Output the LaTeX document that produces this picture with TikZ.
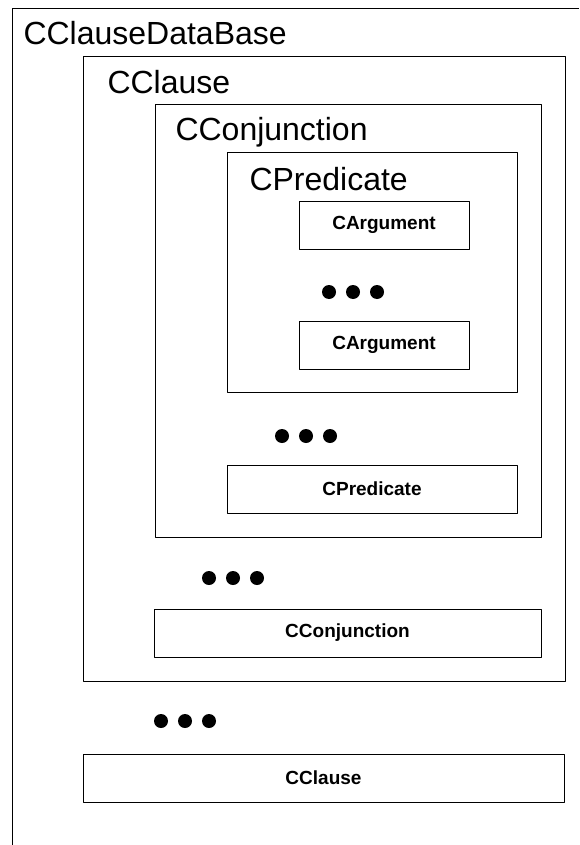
\documentclass[tikz,border=0pt]{standalone}
\usepackage{fontspec}
\setmainfont{Liberation Sans}
\usetikzlibrary{positioning}

\begin{document}
\begin{tikzpicture}[x=1pt, y=-1pt, line join=round, line width=1pt,
    title/.style={anchor=base west, inner sep=0pt, font=\fontsize{32}{32}\selectfont},
    item/.style={draw, line width=1pt, inner sep=0pt, minimum height=48pt,
      font=\bfseries\fontsize{19}{19}\selectfont},
    dot/.style={circle, fill=black, inner sep=0pt, minimum size=14pt}]
    \useasboundingbox (0,0) rectangle (579,845);

    % Outer container, cut off at the right and bottom
    \draw (12,845) -- (12,9) -- (579,9);
    \node[title] (dbtitle) at (23,45) {CClauseDataBase};

    % Nested containers
    \draw (83,57) rectangle (565,681);
    \node[title] (clausetitle) at (107,94) {CClause};
    \draw (155,105) rectangle (541,537);
    \node[title] (conjtitle) at (175,141) {CConjunction};
    \draw (227,153) rectangle (517,392);
    \node[title] (predtitle) at (249,190) {CPredicate};

    % Argument boxes
    \node[item, minimum width=170pt] (arg1) at (384,225) {CArgument};
    \node[item, minimum width=170pt] (arg2) at (384,345) {CArgument};

    % Closing boxes of each level
    \node[item, minimum width=290pt] (pred) at (372,489) {CPredicate};
    \node[item, minimum width=387pt] (conj) at (347.5,633) {CConjunction};
    \node[item, minimum width=481pt] (clause) at (323.5,778) {CClause};

    % Ellipsis dots
    \foreach \i in {0,1,2} {
        \node[dot] (argdot\i) at ({329+24*\i},292) {};
        \node[dot] (preddot\i) at ({282+24*\i},436) {};
        \node[dot] (conjdot\i) at ({209+24*\i},578) {};
        \node[dot] (clausedot\i) at ({161+24*\i},721) {};
    }
\end{tikzpicture}
\end{document}
